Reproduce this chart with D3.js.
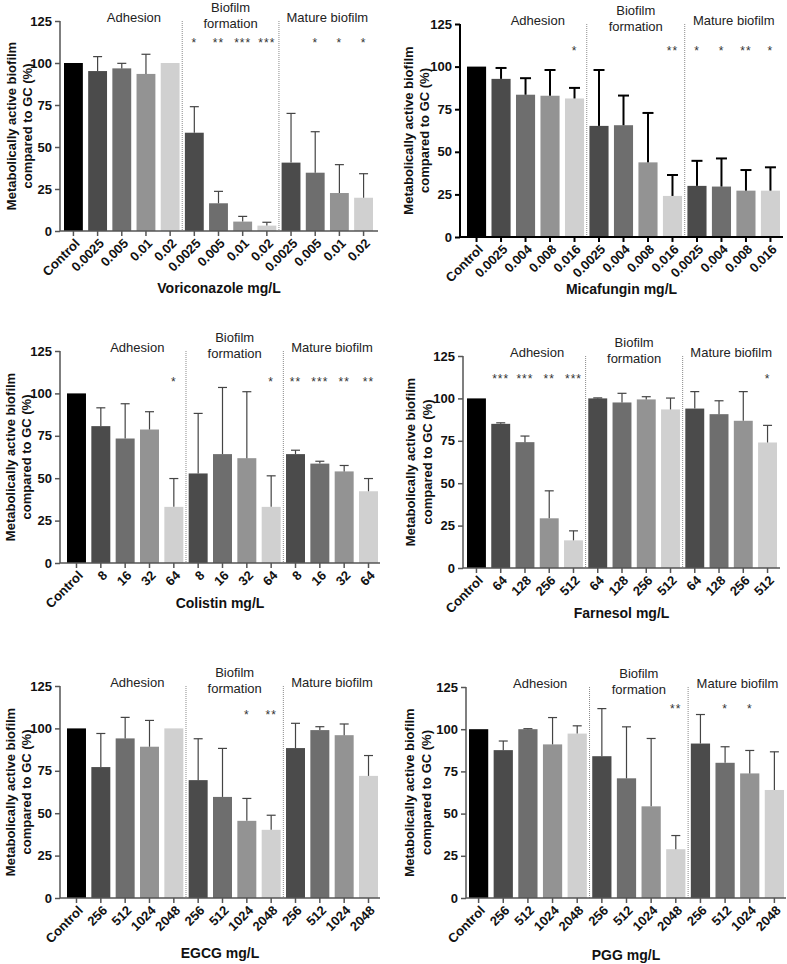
<!DOCTYPE html>
<html>
<head>
<meta charset="utf-8">
<script src="https://cdn.jsdelivr.net/npm/d3@7"></script>
<style>
  html, body { margin: 0; padding: 0; background: #fff; }
  svg { display: block; font-family: "Liberation Sans", Arial, sans-serif; }
</style>
</head>
<body>
<svg id="chart" width="787" height="964"></svg>
<script>
// ---------- DATA ----------
const groupNames = ["Adhesion", "Biofilm formation", "Mature biofilm"];
const yTicks = [0, 25, 50, 75, 100, 125];

const vorLabels = ["Control", "0.0025", "0.005", "0.01", "0.02", "0.0025", "0.005", "0.01", "0.02", "0.0025", "0.005", "0.01", "0.02"];
const vorMeans  = [100, 95.2, 96.8, 93.5, 100, 58.5, 16.5, 5.6, 3.2, 40.7, 34.7, 22.6, 19.8];
const vorUpper  = [null, 103.8, 99.8, 105.2, null, 74, 23.6, 8.7, 5.2, 70, 59.1, 39.5, 34.1];
const vorStars  = ["", "", "", "", "", "*", "**", "***", "***", "", "*", "*", "*"];

const micLabels = ["Control", "0.0025", "0.004", "0.008", "0.016", "0.0025", "0.004", "0.008", "0.016", "0.0025", "0.004", "0.008", "0.016"];
const micMeans  = [100, 92.8, 83.5, 82.9, 81.3, 65.2, 65.6, 43.8, 24.1, 30, 29.6, 27.2, 27.2];
const micUpper  = [null, 99.2, 93.2, 98, 87.5, 98, 83, 72.8, 36.4, 44.7, 46.1, 39.3, 40.9];
const micStars  = ["", "", "", "", "*", "", "", "", "**", "*", "*", "**", "*"];

const colLabels = ["Control", "8", "16", "32", "64", "8", "16", "32", "64", "8", "16", "32", "64"];
const colMeans  = [100, 80.7, 73.4, 78.7, 33.1, 52.8, 64.2, 61.8, 33.1, 64.2, 58.6, 54, 42.3];
const colUpper  = [null, 91.5, 93.9, 89.2, 49.8, 88.2, 103.5, 101, 51.4, 66.5, 60, 57.5, 49.8];
const colStars  = ["", "", "", "", "*", "", "", "", "*", "**", "***", "**", "**"];

const farLabels = ["Control", "64", "128", "256", "512", "64", "128", "256", "512", "64", "128", "256", "512"];
const farMeans  = [100, 85, 74.2, 29.3, 16.3, 100, 97.6, 99.4, 93.5, 94, 90.7, 86.8, 74];
const farUpper  = [null, 85.6, 77.8, 45.5, 21.9, 100.3, 103, 101, 100.2, 104, 98.6, 104, 84.1];
const farStars  = ["", "***", "***", "**", "***", "", "", "", "", "", "", "", "*"];

const egcLabels = ["Control", "256", "512", "1024", "2048", "256", "512", "1024", "2048", "256", "512", "1024", "2048"];
const egcMeans  = [100, 77.2, 94.1, 89.2, 100, 69.5, 59.6, 45.5, 40.2, 88.4, 99, 96, 72];
const egcUpper  = [null, 97, 106.5, 104.7, null, 93.9, 88.2, 58.7, 48.8, 103, 101, 102.6, 84];
const egcStars  = ["", "", "", "", "", "", "", "*", "**", "", "", "", ""];

const pggLabels = ["Control", "256", "512", "1024", "2048", "256", "512", "1024", "2048", "256", "512", "1024", "2048"];
const pggMeans  = [100, 87.6, 100, 91, 97.4, 84, 70.9, 54.3, 28.9, 91.5, 80.1, 73.8, 64];
const pggUpper  = [null, 93, 100.3, 106.9, 102, 112.2, 101.4, 94.5, 37, 108.7, 89.6, 87.4, 86.6];
const pggStars  = ["", "", "", "", "", "", "", "", "**", "", "*", "*", ""];

const xTitles = ["Voriconazole mg/L", "Micafungin mg/L", "Colistin mg/L", "Farnesol mg/L", "EGCG mg/L", "PGG mg/L"];
const starLevels = [113.7, 111, 108.5, 113, 109.7, 114];

// ---------- STYLE / LAYOUT ----------
const barColors = ["#000000", "#4b4b4b", "#6e6e6e", "#939393", "#d0d0d0",
                   "#4b4b4b", "#6e6e6e", "#939393", "#d0d0d0",
                   "#4b4b4b", "#6e6e6e", "#939393", "#d0d0d0"];

const panels = [
  { labels: vorLabels, means: vorMeans, upper: vorUpper, stars: vorStars,
    axisL: 60, axisR: 378, barsL: 64, barsR: 373, top: 21, bottom: 231, titleY: 293, yt1: 11, yt2: 27, heavy: false },
  { labels: micLabels, means: micMeans, upper: micUpper, stars: micStars,
    axisL: 460, axisR: 783, barsL: 467, barsR: 780, top: 24, bottom: 237, titleY: 294, yt1: 408, yt2: 424, heavy: true },
  { labels: colLabels, means: colMeans, upper: colUpper, stars: colStars,
    axisL: 60, axisR: 380, barsL: 67, barsR: 378, top: 351, bottom: 563, titleY: 608, yt1: 10, yt2: 26, heavy: false },
  { labels: farLabels, means: farMeans, upper: farUpper, stars: farStars,
    axisL: 463, axisR: 780, barsL: 467, barsR: 777, top: 356, bottom: 568, titleY: 618, yt1: 410, yt2: 427, heavy: false },
  { labels: egcLabels, means: egcMeans, upper: egcUpper, stars: egcStars,
    axisL: 60, axisR: 380, barsL: 67, barsR: 378, top: 686, bottom: 898, titleY: 958, yt1: 10, yt2: 26, heavy: false },
  { labels: pggLabels, means: pggMeans, upper: pggUpper, stars: pggStars,
    axisL: 466, axisR: 786, barsL: 469, barsR: 784, top: 687, bottom: 898, titleY: 960, yt1: 409, yt2: 426, heavy: false }
];

const svg = d3.select("#chart");

panels.forEach((p, pi) => {
  const g = svg.append("g");
  const idx = d3.range(p.means.length);
  const x = d3.scaleBand().domain(idx).range([p.barsL, p.barsR]).paddingInner(0.22).paddingOuter(0);
  const y = d3.scaleLinear().domain([0, 125]).range([p.bottom, p.top]);

  const axisColor = p.heavy ? "#000" : "#555";
  const axisW = p.heavy ? 2 : 1.5;
  const errColor = p.heavy ? "#000" : "#444";
  const errW = p.heavy ? 2 : 1.2;
  const capW = p.heavy ? 11 : 9;

  // bars
  g.selectAll("rect.bar").data(idx).enter().append("rect")
    .attr("x", i => x(i))
    .attr("y", i => y(p.means[i]))
    .attr("width", x.bandwidth())
    .attr("height", i => y(0) - y(p.means[i]))
    .attr("fill", i => barColors[i]);

  // error bars (upper only)
  const errIdx = idx.filter(i => p.upper[i] !== null);
  g.selectAll("line.err").data(errIdx).enter().append("line")
    .attr("x1", i => x(i) + x.bandwidth() / 2)
    .attr("x2", i => x(i) + x.bandwidth() / 2)
    .attr("y1", i => y(p.means[i]))
    .attr("y2", i => y(p.upper[i]))
    .attr("stroke", errColor).attr("stroke-width", errW);
  g.selectAll("line.cap").data(errIdx).enter().append("line")
    .attr("x1", i => x(i) + x.bandwidth() / 2 - capW / 2)
    .attr("x2", i => x(i) + x.bandwidth() / 2 + capW / 2)
    .attr("y1", i => y(p.upper[i]))
    .attr("y2", i => y(p.upper[i]))
    .attr("stroke", errColor).attr("stroke-width", errW);

  // group dividers (dotted)
  [4, 8].forEach(b => {
    const xd = (x(b) + x.bandwidth() + x(b + 1)) / 2;
    g.append("line")
      .attr("x1", xd).attr("x2", xd)
      .attr("y1", y(125)).attr("y2", y(0))
      .attr("stroke", "#8a8a8a").attr("stroke-width", 1)
      .attr("stroke-dasharray", "1,1");
  });

  // group labels
  const groupBars = [[1, 4], [5, 8], [9, 12]];
  groupBars.forEach((gb, gi) => {
    const cx = (x(gb[0]) + x(gb[1]) + x.bandwidth()) / 2;
    const t = g.append("text")
      .attr("x", cx)
      .attr("text-anchor", "middle")
      .attr("font-size", 13)
      .attr("fill", "#222");
    if (gi === 1) {
      t.append("tspan").attr("x", cx).attr("y", y(125) - 9).text("Biofilm");
      t.append("tspan").attr("x", cx).attr("y", y(125) + 7).text("formation");
    } else {
      t.attr("y", y(125) + 1).text(groupNames[gi]);
    }
  });

  // significance stars
  g.selectAll("text.star").data(idx.filter(i => p.stars[i] !== "")).enter().append("text")
    .attr("x", i => x(i) + x.bandwidth() / 2)
    .attr("y", y(starLevels[pi]) + 7)
    .attr("text-anchor", "middle")
    .attr("font-size", 12)
    .attr("letter-spacing", 1)
    .attr("fill", "#333")
    .text(i => p.stars[i]);

  // y axis
  const yAxis = d3.axisLeft(y).tickValues(yTicks).tickSize(5).tickPadding(3);
  const ya = g.append("g").attr("transform", `translate(${p.axisL},0)`).call(yAxis);
  ya.select(".domain").attr("stroke", axisColor).attr("stroke-width", axisW)
    .attr("d", `M0,${y(125)}V${y(0)}`);
  ya.selectAll(".tick line").attr("stroke", axisColor).attr("stroke-width", axisW);
  ya.selectAll(".tick text")
    .attr("font-size", 13).attr("font-weight", "bold").attr("fill", "#111")
    .attr("font-family", "Liberation Sans, Arial, sans-serif");

  // x axis
  const xa = g.append("g").attr("transform", `translate(0,${p.bottom})`);
  xa.append("line")
    .attr("x1", p.axisL).attr("x2", p.axisR)
    .attr("y1", 0).attr("y2", 0)
    .attr("stroke", axisColor).attr("stroke-width", axisW);
  xa.selectAll("line.xt").data(idx).enter().append("line")
    .attr("x1", i => x(i) + x.bandwidth() / 2)
    .attr("x2", i => x(i) + x.bandwidth() / 2)
    .attr("y1", 0).attr("y2", 5)
    .attr("stroke", axisColor).attr("stroke-width", axisW);
  xa.selectAll("text.xl").data(idx).enter().append("text")
    .attr("transform", i => `translate(${x(i) + x.bandwidth() / 2 + 4},${10}) rotate(-45)`)
    .attr("text-anchor", "end")
    .attr("dy", "0.35em")
    .attr("font-size", 13)
    .attr("font-weight", "bold")
    .attr("fill", "#111")
    .text(i => p.labels[i]);

  // x title
  g.append("text")
    .attr("x", (p.axisL + p.axisR) / 2)
    .attr("y", p.titleY)
    .attr("text-anchor", "middle")
    .attr("font-size", 14)
    .attr("font-weight", "bold")
    .attr("fill", "#111")
    .text(xTitles[pi]);

  // y title (two lines)
  const cy = (p.top + p.bottom) / 2;
  [["Metabolically active biofilm", p.yt1], ["compared to GC (%)", p.yt2]].forEach(([txt, cx]) => {
    g.append("text")
      .attr("transform", `translate(${cx},${cy}) rotate(-90)`)
      .attr("text-anchor", "middle")
      .attr("dominant-baseline", "central")
      .attr("font-size", 13)
      .attr("font-weight", "bold")
      .attr("fill", "#111")
      .text(txt);
  });
});
</script>
</body>
</html>
